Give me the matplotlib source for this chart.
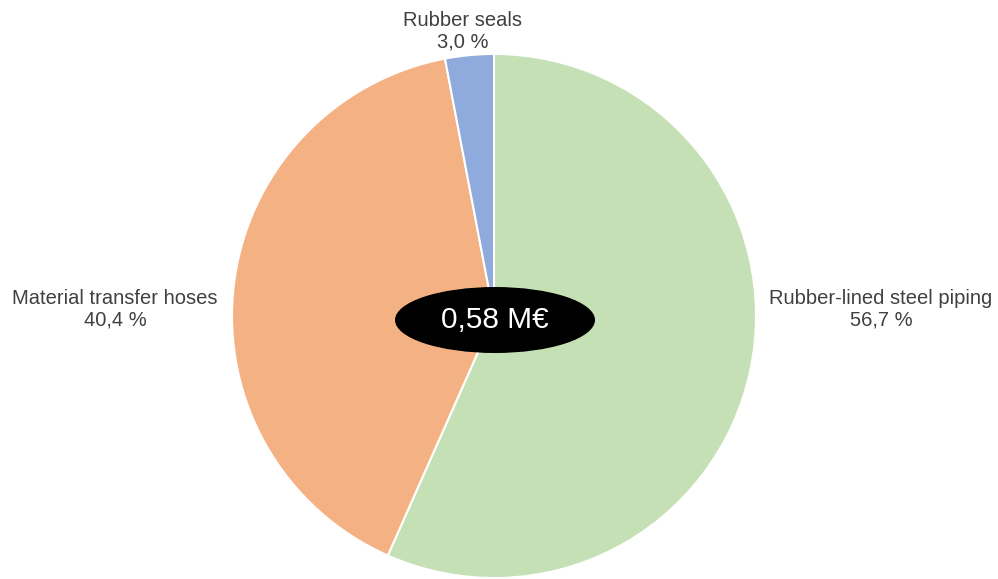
import matplotlib
matplotlib.use("Agg")
import matplotlib.pyplot as plt
from matplotlib.patches import Ellipse

plt.rcParams['font.family'] = ['Liberation Sans', 'DejaVu Sans']

# Cost breakdown by component
categories = ["Rubber-lined steel piping", "Material transfer hoses", "Rubber seals"]
shares = [56.7, 40.4, 3.0]
colors = ["#C5E0B4", "#F4B183", "#8FAADC"]
total_label = "0,58 M€"

W, H = 998, 579
fig = plt.figure(figsize=(W / 100, H / 100), dpi=100)
ax = fig.add_axes([0, 0, 1, 1])

cx, cy, r = 494, H - 316, 262
ax.pie(shares, colors=colors, startangle=90, counterclock=False,
       radius=r, center=(cx, cy), frame=True,
       wedgeprops=dict(edgecolor="white", linewidth=1.5))
ax.set_xlim(0, W)
ax.set_ylim(0, H)
ax.set_aspect("equal")
ax.axis("off")

def fmt(v):
    return f"{v:.1f}".replace(".", ",") + " %"

label_pos = {
    "Rubber-lined steel piping": (881, H - 309),
    "Material transfer hoses": (115, H - 309),
    "Rubber seals": (463, H - 31),
}
for name, val in zip(categories, shares):
    x, y = label_pos[name]
    ax.text(x, y, f"{name}\n{fmt(val)}", ha="center", va="center",
            fontsize=14.5, color="#404040", linespacing=1.15)

ax.add_patch(Ellipse((495, H - 320), 200, 66, facecolor="black", edgecolor="none", zorder=5))
ax.text(495, H - 320, total_label, ha="center", va="center", fontsize=21.5,
        color="white", zorder=6)

fig.savefig("out.png", dpi=100)
